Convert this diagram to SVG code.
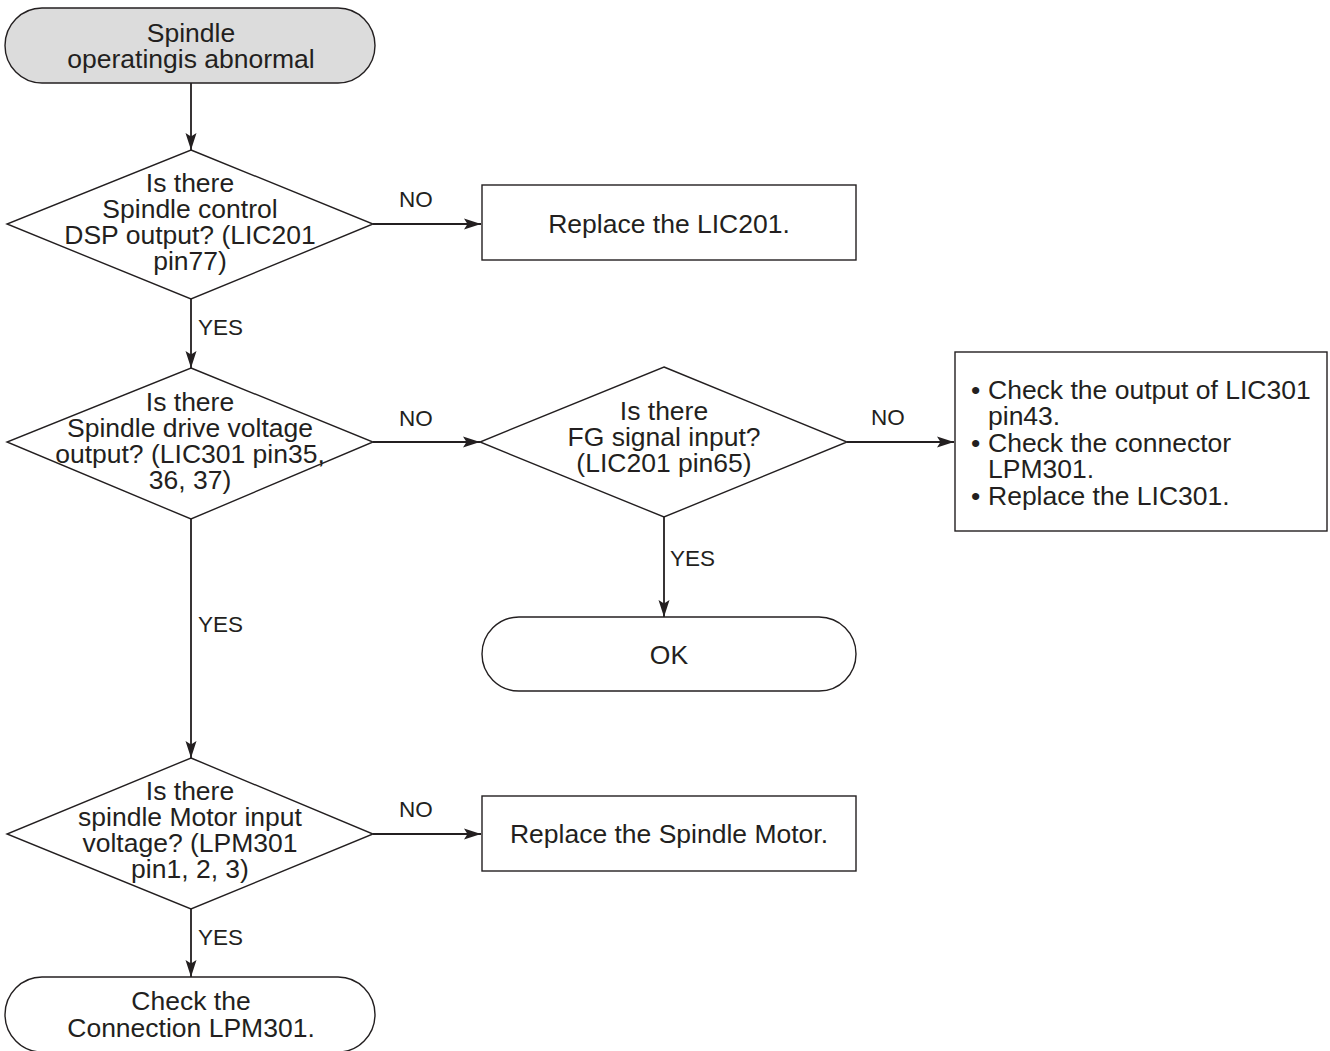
<svg xmlns="http://www.w3.org/2000/svg" width="1330" height="1051" viewBox="0 0 1330 1051">
<defs>
<marker id="ah" markerWidth="18" markerHeight="12" refX="17" refY="6" orient="auto" markerUnits="userSpaceOnUse">
<path d="M0,0.5 L17,6 L0,11.5 L3.5,6 Z" fill="#231f20"/>
</marker>
<style>
.sh{fill:#fff;stroke:#231f20;stroke-width:1.4}
.term{fill:#fff;stroke:#231f20;stroke-width:1.4}
.start{fill:#dcdcdc;stroke:#231f20;stroke-width:1.4}
.t{font-family:"Liberation Sans",Arial,sans-serif;font-size:26.5px;fill:#231f20;text-anchor:middle}
.tl{font-family:"Liberation Sans",Arial,sans-serif;font-size:26.5px;fill:#231f20}
.lb{font-family:"Liberation Sans",Arial,sans-serif;font-size:22.5px;fill:#231f20}
.c{fill:none;stroke:#231f20;stroke-width:1.8}
</style>
</defs>
<rect width="1330" height="1051" fill="#fff"/>
<g id="connectors">
<line class="c" x1="191" y1="83" x2="191" y2="150" marker-end="url(#ah)"/>
<line class="c" x1="373" y1="224" x2="481" y2="224" marker-end="url(#ah)"/>
<text class="lb" x="399" y="207">NO</text>
<line class="c" x1="191" y1="299" x2="191" y2="368" marker-end="url(#ah)"/>
<text class="lb" x="198" y="335">YES</text>
<line class="c" x1="373" y1="442" x2="480" y2="442" marker-end="url(#ah)"/>
<text class="lb" x="399" y="426">NO</text>
<line class="c" x1="847" y1="442" x2="954" y2="442" marker-end="url(#ah)"/>
<text class="lb" x="871" y="425">NO</text>
<line class="c" x1="664" y1="517" x2="664" y2="617" marker-end="url(#ah)"/>
<text class="lb" x="670" y="566">YES</text>
<line class="c" x1="191" y1="519" x2="191" y2="758" marker-end="url(#ah)"/>
<text class="lb" x="198" y="632">YES</text>
<line class="c" x1="373" y1="834" x2="481" y2="834" marker-end="url(#ah)"/>
<text class="lb" x="399" y="817">NO</text>
<line class="c" x1="191" y1="909" x2="191" y2="977" marker-end="url(#ah)"/>
<text class="lb" x="198" y="945">YES</text>
</g>
<g id="start">
<rect class="start" x="5" y="8" width="370" height="75" rx="37" ry="37.5"/>
<text class="t" x="191" y="42">Spindle</text>
<text class="t" x="191" y="68">operatingis abnormal</text>
</g>
<g id="d1">
<polygon class="sh" points="191,150 373,224 191,299 7,224"/>
<text class="t" x="190" y="192">Is there</text>
<text class="t" x="190" y="218">Spindle control</text>
<text class="t" x="190" y="244">DSP output? (LIC201</text>
<text class="t" x="190" y="270">pin77)</text>
</g>
<g id="b1">
<rect class="sh" x="482" y="185" width="374" height="75"/>
<text class="t" x="669" y="233">Replace the LIC201.</text>
</g>
<g id="d2">
<polygon class="sh" points="191,368 373,442 191,519 7,442"/>
<text class="t" x="190" y="411">Is there</text>
<text class="t" x="190" y="437">Spindle drive voltage</text>
<text class="t" x="190" y="463">output? (LIC301 pin35,</text>
<text class="t" x="190" y="489">36, 37)</text>
</g>
<g id="d3">
<polygon class="sh" points="664,367 847,442 664,517 480,442"/>
<text class="t" x="664" y="420">Is there</text>
<text class="t" x="664" y="446">FG signal input?</text>
<text class="t" x="664" y="472">(LIC201 pin65)</text>
</g>
<g id="b3">
<rect class="sh" x="955" y="352" width="372" height="179"/>
<text class="tl" x="971" y="399">•</text>
<text class="tl" x="988" y="399">Check the output of LIC301</text>
<text class="tl" x="988" y="425">pin43.</text>
<text class="tl" x="971" y="452">•</text>
<text class="tl" x="988" y="452">Check the connector</text>
<text class="tl" x="988" y="478">LPM301.</text>
<text class="tl" x="971" y="505">•</text>
<text class="tl" x="988" y="505">Replace the LIC301.</text>
</g>
<g id="ok">
<rect class="term" x="482" y="617" width="374" height="74" rx="37" ry="37"/>
<text class="t" x="669" y="664">OK</text>
</g>
<g id="d4">
<polygon class="sh" points="191,758 373,834 191,909 7,834"/>
<text class="t" x="190" y="800">Is there</text>
<text class="t" x="190" y="826">spindle Motor input</text>
<text class="t" x="190" y="852">voltage? (LPM301</text>
<text class="t" x="190" y="878">pin1, 2, 3)</text>
</g>
<g id="b4">
<rect class="sh" x="482" y="796" width="374" height="75"/>
<text class="t" x="669" y="843">Replace the Spindle Motor.</text>
</g>
<g id="end">
<rect class="term" x="5" y="977" width="370" height="75" rx="37" ry="37.5"/>
<text class="t" x="191" y="1010">Check the</text>
<text class="t" x="191" y="1037">Connection LPM301.</text>
</g>
</svg>
